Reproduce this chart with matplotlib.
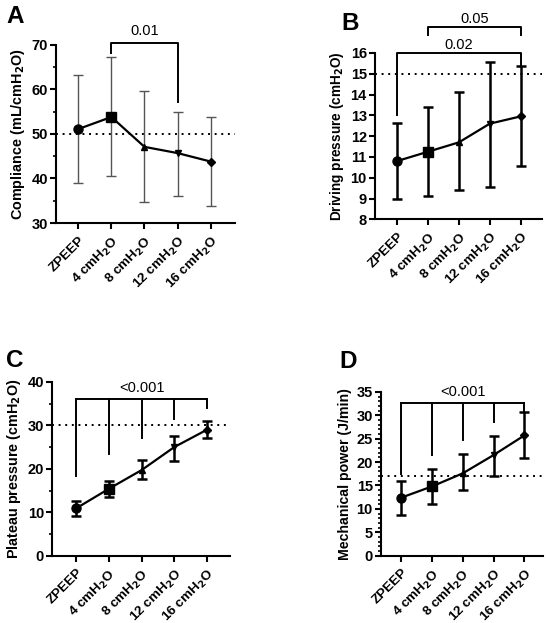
import matplotlib
matplotlib.use("Agg")
import matplotlib.pyplot as plt
from matplotlib.ticker import MultipleLocator
import numpy as np

plt.rcParams['font.family'] = ['Liberation Sans', 'DejaVu Sans']
plt.rcParams['mathtext.default'] = 'bf'

# categorias comunes
niveles = ['ZPEEP', '4 cmH$_2$O', '8 cmH$_2$O', '12 cmH$_2$O', '16 cmH$_2$O']
marcadores = ['o', 's', '^', 'v', 'D']
tam_marc = [6.5, 6.5, 5, 5, 4.5]

# A - compliance
comp_media = [51.1, 53.8, 47.1, 45.7, 43.8]
comp_bajo = [39.0, 40.5, 34.7, 36.0, 33.8]
comp_alto = [63.2, 67.2, 59.7, 55.0, 53.7]

# B - driving pressure
dp_media = [10.8, 11.25, 11.7, 12.6, 12.95]
dp_bajo = [9.0, 9.1, 9.4, 9.55, 10.55]
dp_alto = [12.65, 13.4, 14.1, 15.55, 15.35]

# C - plateau pressure
pp_media = [10.9, 15.4, 19.7, 25.0, 29.0]
pp_bajo = [9.1, 13.5, 17.6, 21.8, 27.0]
pp_alto = [12.7, 17.3, 22.0, 27.6, 31.1]

# D - mechanical power
mp_media = [12.4, 14.8, 17.6, 21.5, 25.7]
mp_bajo = [8.8, 11.0, 14.0, 17.0, 20.8]
mp_alto = [16.0, 18.6, 21.7, 25.6, 30.8]

fig = plt.figure(figsize=(5.5, 6.23), dpi=100)

def panel(pos, media, bajo, alto, ylabel, lsize, ylim, major, minor, umbral, xlim, ecolor, elw):
    ax = fig.add_axes(pos)
    x = np.arange(len(media))
    media = np.array(media)
    err = [media - np.array(bajo), np.array(alto) - media]
    ax.errorbar(x, media, yerr=err, fmt='none', ecolor=ecolor, elinewidth=elw,
                capsize=3.5, capthick=elw, zorder=2)
    ax.plot(x, media, color='black', lw=1.6, zorder=3)
    for xi, yi, m, s in zip(x, media, marcadores, tam_marc):
        ax.plot(xi, yi, marker=m, color='black', ms=s, zorder=4)
    ax.axhline(umbral, color='black', ls=(0, (1, 2.4)), lw=1.4, zorder=1)
    ax.set_xlim(*xlim)
    ax.set_ylim(*ylim)
    ax.yaxis.set_major_locator(MultipleLocator(major))
    if minor:
        ax.yaxis.set_minor_locator(MultipleLocator(minor))
    ax.set_xticks(x)
    ax.set_xticklabels(niveles, rotation=45, ha='right', rotation_mode='anchor',
                       fontsize=9.7, fontweight='bold')
    for t in ax.get_yticklabels():
        t.set_fontweight('bold')
        t.set_fontsize(10.5)
    ax.set_ylabel(ylabel, fontsize=lsize, fontweight='bold', labelpad=3)
    ax.spines['top'].set_visible(False)
    ax.spines['right'].set_visible(False)
    for s in ['left', 'bottom']:
        ax.spines[s].set_linewidth(1.5)
    ax.tick_params(width=1.5, length=4, pad=2)
    ax.tick_params(axis='x', pad=4)
    ax.tick_params(which='minor', width=1.2, length=2.5)
    return ax

def corchete(ax, x0, x1, ytop, yleft, yright, texto, ytexto):
    ax.plot([x0, x0, x1, x1], [yleft, ytop, ytop, yright], color='black', lw=1.4,
            clip_on=False, zorder=5)
    if texto:
        ax.text((x0 + x1) / 2, ytexto, texto, ha='center', va='bottom', fontsize=10.5)

# A
axA = panel([0.102, 0.642, 0.325, 0.286], comp_media, comp_bajo, comp_alto,
            'Compliance (mL/cmH$_2$O)', 10.4, (30, 70), 10, 5, 50, (-0.67, 4.73), '#555555', 1.0)
corchete(axA, 1, 3, 70.4, 68.2, 57.2, '0.01', 71.6)

# B
axB = panel([0.682, 0.648, 0.303, 0.267], dp_media, dp_bajo, dp_alto,
            'Driving pressure (cmH$_2$O)', 9.8, (8, 16), 1, None, 15, (-0.71, 4.68), 'black', 1.8)
corchete(axB, 0, 4, 16.0, 13.0, 15.4, '0.02', 16.05)
corchete(axB, 1, 4, 17.25, 16.85, 16.85, '0.05', 17.3)

# C
axC = panel([0.095, 0.108, 0.323, 0.279], pp_media, pp_bajo, pp_alto,
            'Plateau pressure (cmH$_2$O)', 10.4, (0, 40), 10, 5, 30, (-0.73, 4.7), 'black', 1.8)
piernas_c = [18.3, 23.3, 27.0, 31.5, 34.0]
axC.plot([0, 4], [36.1, 36.1], color='black', lw=1.4, zorder=5)
for i, yb in enumerate(piernas_c):
    axC.plot([i, i], [yb, 36.1], color='black', lw=1.4, zorder=5)
axC.text(2, 37.0, '<0.001', ha='center', va='bottom', fontsize=10.5)

# D
axD = panel([0.693, 0.108, 0.294, 0.263], mp_media, mp_bajo, mp_alto,
            'Mechanical power (J/min)', 10.2, (0, 35), 5, 1, 17, (-0.65, 4.6), 'black', 1.8)
piernas_d = [17.4, 21.6, 24.8, 28.6, 30.8]
axD.plot([0, 4], [32.7, 32.7], color='black', lw=1.4, zorder=5)
for i, yb in enumerate(piernas_d):
    axD.plot([i, i], [yb, 32.7], color='black', lw=1.4, zorder=5)
axD.text(2, 33.4, '<0.001', ha='center', va='bottom', fontsize=10.5)

# letras de panel
for letra, xx, yy in [('A', 0.011, 0.974), ('B', 0.620, 0.962), ('C', 0.011, 0.422), ('D', 0.617, 0.419)]:
    fig.text(xx, yy, letra, fontsize=17.5, fontweight='bold', va='center')

plt.savefig('out.png', dpi=100)
plt.close()
